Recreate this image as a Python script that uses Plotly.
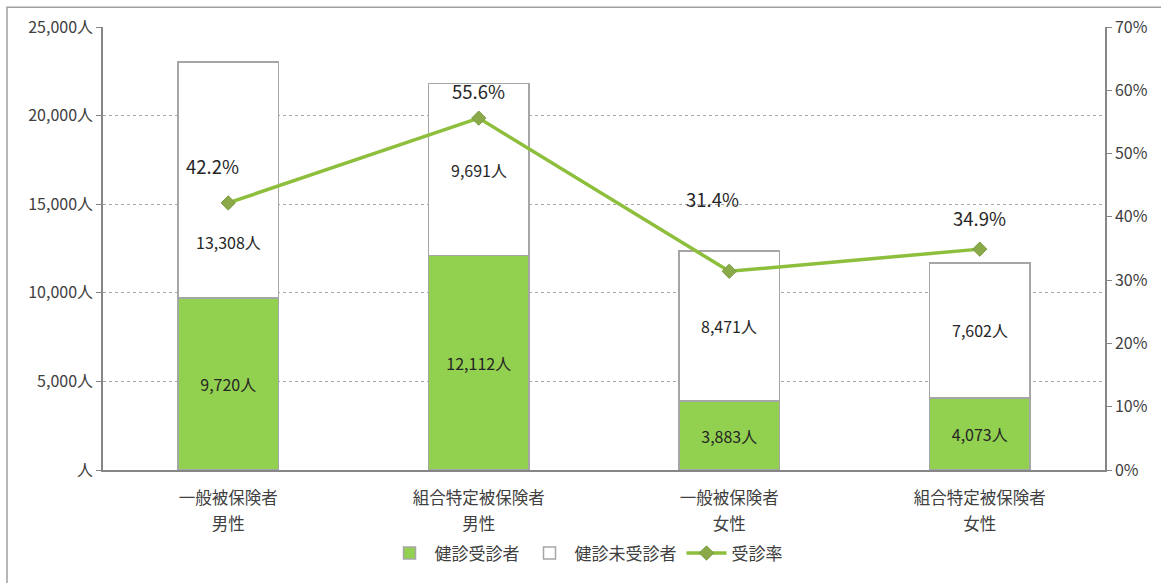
import plotly.graph_objects as go

groups = ["一般被保険者", "組合特定被保険者", "一般被保険者", "組合特定被保険者"]
sexes = ["男性", "男性", "女性", "女性"]
categories = [f"{g} {s}" for g, s in zip(groups, sexes)]
examined = [9720, 12112, 3883, 4073]
not_examined = [13308, 9691, 8471, 7602]
rate = [42.2, 55.6, 31.4, 34.9]

left_ticks = [0, 5000, 10000, 15000, 20000, 25000]
left_ticktext = ["人", "5,000人", "10,000人", "15,000人", "20,000人", "25,000人"]
right_ticks = [0, 10, 20, 30, 40, 50, 60, 70]
right_ticktext = ["0%", "10%", "20%", "30%", "40%", "50%", "60%", "70%"]

FONT = "Noto Sans CJK JP, Noto Sans, sans-serif"
TXT = "#404040"
GRID = "#A6A6A6"

fig = go.Figure()
fig.add_trace(go.Bar(
    x=categories, y=examined, name="健診受診者",
    marker=dict(color="#92D050", line=dict(color="#A6A6A6", width=1.5)),
    text=[f"{v:,}人" for v in examined], textposition="inside",
    insidetextanchor="middle", textfont=dict(size=16, color="#262626", family=FONT),
    constraintext="none", yaxis="y",
))
fig.add_trace(go.Bar(
    x=categories, y=not_examined, name="健診未受診者",
    marker=dict(color="white", line=dict(color="#A6A6A6", width=1.5)),
    yaxis="y",
))
fig.add_trace(go.Scatter(
    x=categories, y=rate, name="受診率", mode="lines+markers",
    line=dict(color="#8DBE3C", width=3.5),
    marker=dict(symbol="diamond", size=11, color="#8AAA4A", line=dict(color="#7A9A40", width=1)),
    yaxis="y2",
))
# invisible helper trace carrying the second category-label row (男性/女性)
fig.add_trace(go.Scatter(
    x=categories, y=rate, xaxis="x2", yaxis="y2", mode="markers",
    marker=dict(opacity=0), showlegend=False, hoverinfo="skip",
))

annotations = []
white_shift = [-62, 0, 0, 0]
for c, e, n, s in zip(categories, examined, not_examined, white_shift):
    annotations.append(dict(x=c, y=e + n / 2, xref="x", yref="y", text=f"{n:,}人",
                            showarrow=False, yshift=s,
                            font=dict(size=16, color="#262626", family=FONT)))
rate_shift = [(-16, 37), (0, 27), (-17, 72), (0, 31)]
for c, r, (dx, dy) in zip(categories, rate, rate_shift):
    annotations.append(dict(x=c, y=r, xref="x", yref="y2", text=f"{r}%",
                            showarrow=False, xshift=dx, yshift=dy,
                            font=dict(size=18.5, color="#262626", family=FONT)))

L, R, T, B = 103, 56, 27, 110
PW, PH = 1161 - L - R, 583 - T - B

fig.update_layout(
    width=1161, height=583,
    margin=dict(l=L, r=R, t=T, b=B),
    paper_bgcolor="white", plot_bgcolor="white",
    barmode="stack", bargap=0.6,
    font=dict(family=FONT, size=16, color=TXT),
    xaxis=dict(type="category", categoryorder="array", categoryarray=categories,
               range=[-0.5, 3.5],
               tickvals=categories, ticktext=groups,
               showline=True, linecolor="#868686", linewidth=1.5, ticks="",
               tickfont=dict(size=16.5, color=TXT), showgrid=False, ticklabelstandoff=12),
    xaxis2=dict(type="category", categoryorder="array", categoryarray=categories,
                range=[-0.5, 3.5], overlaying="x", side="bottom",
                tickvals=categories, ticktext=sexes,
                showline=False, ticks="", showgrid=False, zeroline=False,
                tickfont=dict(size=16.5, color=TXT), ticklabelstandoff=42),
    yaxis=dict(range=[0, 25000], tickvals=left_ticks, ticktext=left_ticktext,
               showline=True, linecolor="#868686", linewidth=1.5,
               ticks="outside", ticklen=5, tickcolor="#868686",
               showgrid=True, gridcolor=GRID, griddash="dot", gridwidth=1,
               zeroline=False, tickfont=dict(size=16, color=TXT)),
    yaxis2=dict(range=[0, 70], tickvals=right_ticks, ticktext=right_ticktext,
                overlaying="y", side="right",
                showline=True, linecolor="#868686", linewidth=1.5,
                ticks="outside", ticklen=5, tickcolor="#868686",
                showgrid=False, zeroline=False, tickfont=dict(size=16, color=TXT)),
    legend=dict(orientation="h", x=(586 - L) / PW, xanchor="center", y=-(557 - 473) / PH,
                yanchor="middle", font=dict(size=17, color=TXT), traceorder="normal",
                itemwidth=40),
    annotations=annotations,
    shapes=[dict(type="rect", xref="paper", yref="paper",
                 x0=(7 - L) / PW, x1=1.2, y0=-0.5, y1=1 + (T - 7) / PH,
                 line=dict(color="#A0A0A0", width=1.5), fillcolor="rgba(0,0,0,0)",
                 layer="below")],
    showlegend=True,
)

fig.write_html("out.html", config={"displayModeBar": False},
               post_script="document.body.style.margin='0';document.body.style.overflow='hidden';")
